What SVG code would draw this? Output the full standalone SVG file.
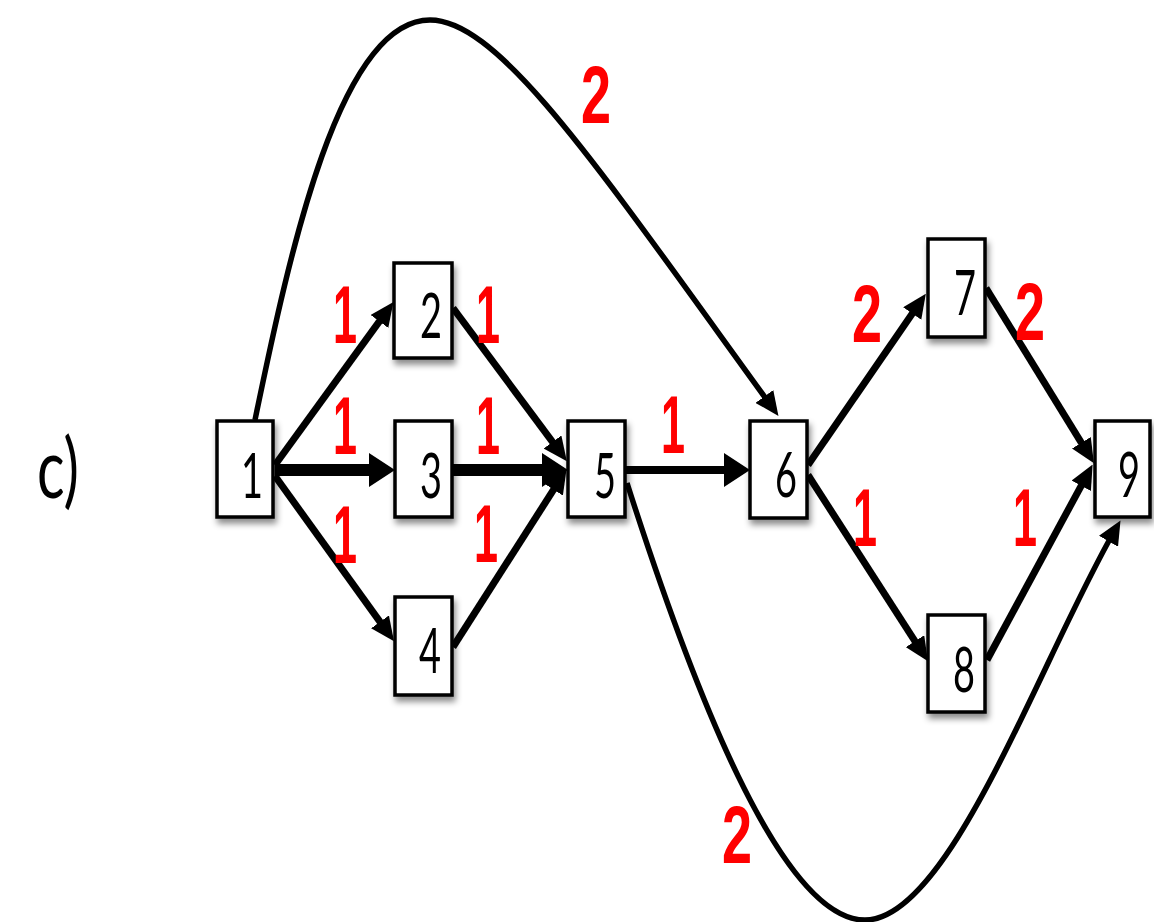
<svg xmlns="http://www.w3.org/2000/svg" width="1154" height="922" viewBox="0 0 1154 922">
<style>
.node rect{fill:#fff;stroke:#000;stroke-width:3.5;filter:url(#sh)}
.node text{font-family:Lato,"Open Sans","DejaVu Sans",sans-serif;font-size:62px;fill:#000;text-anchor:middle}
.w{font-family:"Liberation Sans",Arial,sans-serif;font-weight:bold;font-size:81px;fill:#ff0000;text-anchor:middle}
.e{fill:none;stroke:#000;stroke-width:7;marker-end:url(#arr)}
.t{stroke-width:12;marker-end:url(#big)}
.c{stroke-width:5.5}
</style>
<defs>
<filter id="sh" x="-20%" y="-20%" width="150%" height="150%">
<feDropShadow dx="2" dy="5" stdDeviation="3" flood-color="#000" flood-opacity="0.45"/>
</filter>
<marker id="arr" viewBox="0 0 24 22" refX="13" refY="11" markerWidth="24" markerHeight="22" markerUnits="userSpaceOnUse" orient="auto">
<path d="M0,0 L24,11 L0,22 z" fill="#000"/>
</marker>
<marker id="big" viewBox="0 0 26 34" refX="13" refY="17" markerWidth="26" markerHeight="34" markerUnits="userSpaceOnUse" orient="auto">
<path d="M0,0 L26,17 L0,34 z" fill="#000"/>
</marker>
</defs>
<text x="37" y="498" font-family="Lato,'Open Sans',sans-serif" font-size="84" textLength="42" lengthAdjust="spacingAndGlyphs" fill="#000">c)</text>
<g id="connectors">
<path class="e c" d="M255,420 C290,250 340,20 430,20 C500,20 600,170 772,407"/>
<path class="e c" d="M627,483 C690,680 780,920 865,920 C950,920 1040,660 1115,530"/>
<path class="e" d="M275,465 L387,310.9"/>
<path class="e t" d="M275,470 L382,470"/>
<path class="e" d="M275,476 L387.6,632.4"/>
<path class="e" d="M453,308 L560.3,452.4"/>
<path class="e t" d="M452,470 L555,470"/>
<path class="e" d="M453,647 L560.6,478.7"/>
<path class="e t" style="stroke-width:8" d="M625,470 L737,470"/>
<path class="e" d="M808,465 L919.6,302.9"/>
<path class="e" d="M808,475 L922,652.1"/>
<path class="e" d="M986,288 L1088.2,453.9"/>
<path class="e" d="M987,660 L1087.4,474.3"/>
</g>
<g id="labels">
<text class="w" x="345" y="343" textLength="24" lengthAdjust="spacingAndGlyphs">1</text>
<text class="w" x="488" y="343" textLength="24" lengthAdjust="spacingAndGlyphs">1</text>
<text class="w" x="345" y="454" textLength="24" lengthAdjust="spacingAndGlyphs">1</text>
<text class="w" x="488" y="454" textLength="24" lengthAdjust="spacingAndGlyphs">1</text>
<text class="w" x="345" y="563" textLength="24" lengthAdjust="spacingAndGlyphs">1</text>
<text class="w" x="486" y="562" textLength="24" lengthAdjust="spacingAndGlyphs">1</text>
<text class="w" x="673" y="453" textLength="24" lengthAdjust="spacingAndGlyphs">1</text>
<text class="w" x="865" y="546" textLength="24" lengthAdjust="spacingAndGlyphs">1</text>
<text class="w" x="1025" y="546" textLength="24" lengthAdjust="spacingAndGlyphs">1</text>
<text class="w" x="596" y="123" textLength="30" lengthAdjust="spacingAndGlyphs">2</text>
<text class="w" x="737" y="863" textLength="30" lengthAdjust="spacingAndGlyphs">2</text>
<text class="w" x="867" y="342" textLength="30" lengthAdjust="spacingAndGlyphs">2</text>
<text class="w" x="1030" y="340" textLength="30" lengthAdjust="spacingAndGlyphs">2</text>
</g>
<g id="n1" class="node"><rect x="217" y="421" width="56" height="96"/><text x="252" y="498" textLength="22" lengthAdjust="spacingAndGlyphs">1</text></g>
<g id="n2" class="node"><rect x="394" y="263" width="58" height="95"/><text x="431" y="338" textLength="22" lengthAdjust="spacingAndGlyphs">2</text></g>
<g id="n3" class="node"><rect x="395" y="421" width="57" height="96"/><text x="431" y="498" textLength="22" lengthAdjust="spacingAndGlyphs">3</text></g>
<g id="n4" class="node"><rect x="395" y="597" width="57" height="98"/><text x="430" y="673" textLength="22" lengthAdjust="spacingAndGlyphs">4</text></g>
<g id="n5" class="node"><rect x="568" y="421" width="57" height="96"/><text x="605" y="498" textLength="22" lengthAdjust="spacingAndGlyphs">5</text></g>
<g id="n6" class="node"><rect x="750" y="421" width="57" height="97"/><text x="786" y="497" textLength="22" lengthAdjust="spacingAndGlyphs">6</text></g>
<g id="n7" class="node"><rect x="928" y="239" width="57" height="98"/><text x="965" y="315" textLength="22" lengthAdjust="spacingAndGlyphs">7</text></g>
<g id="n8" class="node"><rect x="928" y="615" width="57" height="97"/><text x="964" y="692" textLength="22" lengthAdjust="spacingAndGlyphs">8</text></g>
<g id="n9" class="node"><rect x="1095" y="421" width="55" height="96"/><text x="1129" y="497" textLength="22" lengthAdjust="spacingAndGlyphs">9</text></g>
</svg>
